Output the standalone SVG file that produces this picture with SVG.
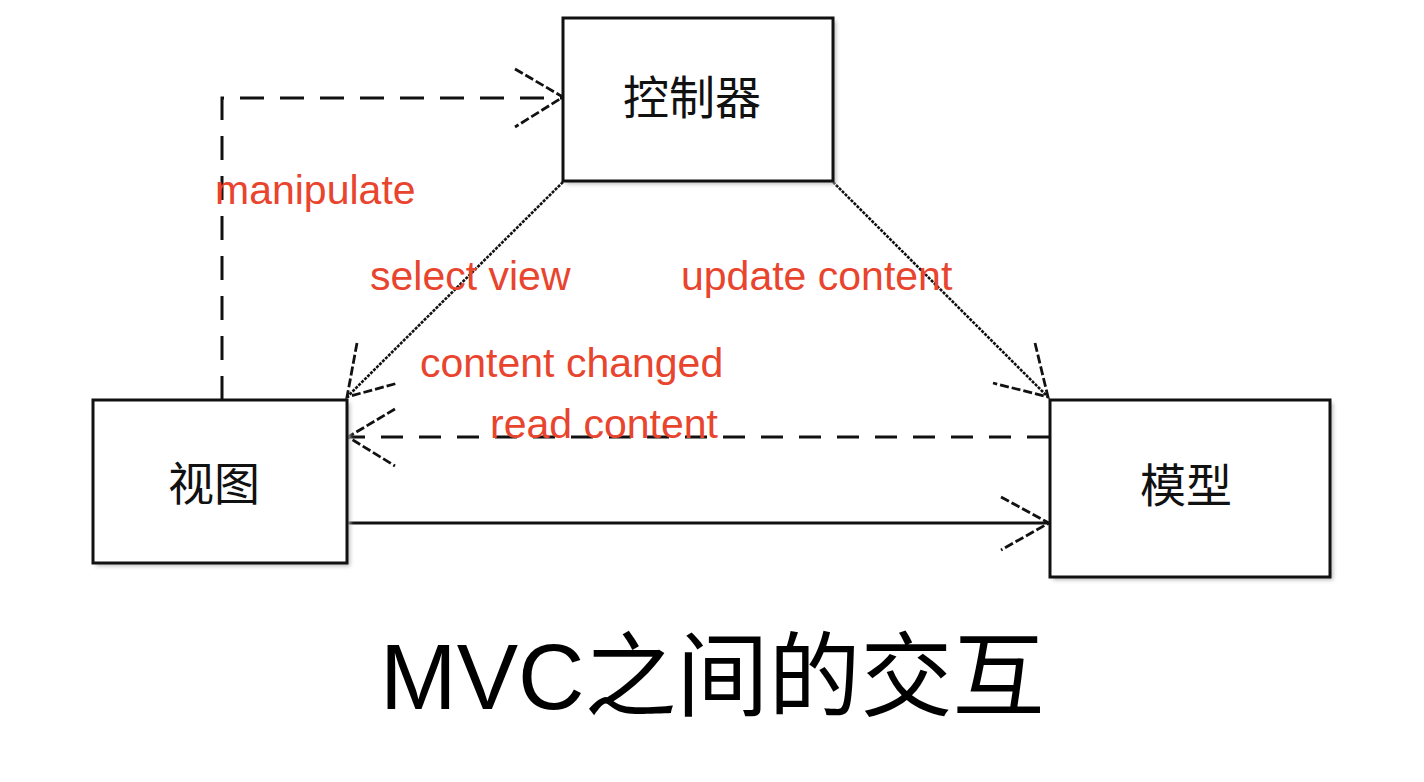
<svg xmlns="http://www.w3.org/2000/svg" width="1424" height="782" viewBox="0 0 1424 782">
<style>
.box{fill:#fff;stroke:#111;stroke-width:3}
.shadow{fill:#bbb;filter:url(#blur)}
.node{font-family:"Noto Sans CJK SC","Liberation Sans",sans-serif;font-size:46px;fill:#111;text-anchor:middle}
.lbl{font-family:"Liberation Sans","Helvetica",Arial,sans-serif;font-size:41px;fill:#e8442e}
.title{font-family:"Liberation Sans","Noto Sans CJK SC",sans-serif;font-size:92px;fill:#000}
.dash{fill:none;stroke:#111;stroke-width:3;stroke-dasharray:24 16}
.dash2{fill:none;stroke:#111;stroke-width:3;stroke-dasharray:22 16}
.dot{fill:none;stroke:#111;stroke-width:2.6;stroke-dasharray:3 1.2}
.solid{fill:none;stroke:#111;stroke-width:3}
.head{fill:none;stroke:#111;stroke-width:2.8;stroke-dasharray:9 3}
</style>
<defs>
<filter id="blur" x="-10%" y="-10%" width="120%" height="120%"><feGaussianBlur stdDeviation="2"/></filter>
</defs>
<rect width="1424" height="782" fill="#fff"/>
<g id="connectors">
<path class="dash" d="M222,400 V98 H562"/>
<path class="head" d="M515,69 L563,97 L515,127"/>
<path class="dot" d="M563,182 L347,397"/>
<path class="head" d="M357,343 L347,397 L398,383"/>
<path class="dot" d="M833,182 L1048,397"/>
<path class="head" d="M1035,343 L1048,397 L993,383"/>
<path class="dash2" d="M1049,437 H349"/>
<path class="head" d="M395,409 L348,437 L395,466"/>
<path class="solid" d="M347,523 H1048"/>
<path class="head" d="M1001,497 L1049,523 L1001,550"/>
</g>
<g id="controller">
<rect class="shadow" x="566" y="21" width="270" height="163"/>
<rect class="box" x="563" y="18" width="270" height="163"/>
<text class="node" x="692" y="114">控制器</text>
</g>
<g id="view">
<rect class="shadow" x="96" y="403" width="254" height="163"/>
<rect class="box" x="93" y="400" width="254" height="163"/>
<text class="node" x="214" y="500">视图</text>
</g>
<g id="model">
<rect class="shadow" x="1053" y="403" width="280" height="177"/>
<rect class="box" x="1050" y="400" width="280" height="177"/>
<text class="node" x="1186" y="502">模型</text>
</g>
<g id="labels">
<text class="lbl" x="215" y="204">manipulate</text>
<text class="lbl" x="370" y="290">select view</text>
<text class="lbl" x="681" y="290">update content</text>
<text class="lbl" x="420" y="377">content changed</text>
<text class="lbl" x="490" y="438">read content</text>
</g>
<text class="title" x="380" y="709">MVC之间的交互</text>
</svg>
